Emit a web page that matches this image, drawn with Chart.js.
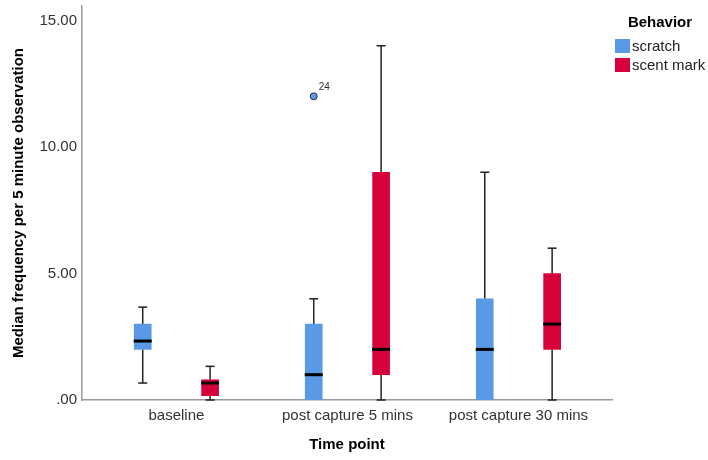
<!DOCTYPE html>
<html>
<head>
<meta charset="utf-8">
<script src="https://cdn.jsdelivr.net/npm/chart.js@4.4.1/dist/chart.umd.min.js"></script>
<style>
  body { margin: 0; background: #fff; }
  canvas { display: block; }
</style>
</head>
<body>
<canvas id="boxChart" width="708" height="460"></canvas>
<script>
const timePoints = ['baseline', 'post capture 5 mins', 'post capture 30 mins'];

// scratch
const scratchMin = [0.67, 0, 0];
const scratchQ1 = [2, 0, 0];
const scratchMedian = [2.33, 1, 2];
const scratchQ3 = [3, 3, 4];
const scratchMax = [3.67, 4, 9];

// scent mark
const scentMin = [0, 0, 0];
const scentQ1 = [0.17, 1, 2];
const scentMedian = [0.67, 2, 3];
const scentQ3 = [0.8, 9, 5];
const scentMax = [1.33, 14, 6];

// outliers (scratch)
const outlierTime = [1];
const outlierValue = [12];
const outlierCase = ['24'];

const yTicks = [0, 5, 10, 15];
const yTickLabels = ['.00', '5.00', '10.00', '15.00'];

const BLUE = '#5a99e5';
const RED = '#d6003a';
const FONT = "'Liberation Sans', Arial, sans-serif";
const groupOffset = 0.197; // half distance between the two boxes, in category units

function boxData(q1, q3, shift) {
  return timePoints.map((t, i) => ({ x: i + shift, y: [q1[i], q3[i]] }));
}

const series = [
  { label: 'scratch', color: BLUE, shift: -groupOffset, min: scratchMin, q1: scratchQ1, med: scratchMedian, q3: scratchQ3, max: scratchMax },
  { label: 'scent mark', color: RED, shift: groupOffset, min: scentMin, q1: scentQ1, med: scentMedian, q3: scentQ3, max: scentMax }
];

const boxPlugin = {
  id: 'boxParts',
  beforeDatasetsDraw(chart) {
    const { ctx, scales: { x, y } } = chart;
    ctx.save();
    ctx.strokeStyle = '#222';
    ctx.lineWidth = 1.5;
    series.forEach(s => {
      timePoints.forEach((t, i) => {
        const px = x.getPixelForValue(i + s.shift);
        const cap = 4.5;
        const parts = [[s.q3[i], s.max[i]], [s.min[i], s.q1[i]]];
        parts.forEach(([a, b]) => {
          if (b <= a) return;
          ctx.beginPath();
          ctx.moveTo(px, y.getPixelForValue(a));
          ctx.lineTo(px, y.getPixelForValue(b));
          ctx.stroke();
        });
        if (s.max[i] > s.q3[i]) {
          const py = y.getPixelForValue(s.max[i]);
          ctx.beginPath(); ctx.moveTo(px - cap, py); ctx.lineTo(px + cap, py); ctx.stroke();
        }
        if (s.min[i] < s.q1[i]) {
          const py = y.getPixelForValue(s.min[i]);
          ctx.beginPath(); ctx.moveTo(px - cap, py); ctx.lineTo(px + cap, py); ctx.stroke();
        }
      });
    });
    ctx.restore();
  },
  afterDatasetsDraw(chart) {
    const { ctx, scales: { x, y } } = chart;
    ctx.save();
    // medians
    ctx.strokeStyle = '#000';
    ctx.lineWidth = 3;
    series.forEach(s => {
      timePoints.forEach((t, i) => {
        const px = x.getPixelForValue(i + s.shift);
        const py = y.getPixelForValue(s.med[i]);
        ctx.beginPath(); ctx.moveTo(px - 9, py); ctx.lineTo(px + 9, py); ctx.stroke();
      });
    });
    // outlier case labels
    ctx.fillStyle = '#333';
    ctx.font = '10px ' + FONT;
    ctx.textBaseline = 'middle';
    outlierTime.forEach((t, k) => {
      const px = x.getPixelForValue(t - groupOffset);
      const py = y.getPixelForValue(outlierValue[k]);
      ctx.fillText(outlierCase[k], px + 5, py - 9);
    });
    // legend
    ctx.fillStyle = '#000';
    ctx.font = 'bold 15px ' + FONT;
    ctx.textAlign = 'center';
    ctx.fillText('Behavior', 660, 23);
    ctx.textAlign = 'left';
    ctx.font = '15px ' + FONT;
    series.forEach((s, k) => {
      const top = 39 + k * 19;
      ctx.fillStyle = s.color;
      ctx.fillRect(615, top, 15, 14);
      ctx.fillStyle = '#222';
      ctx.fillText(s.label, 632, top + 7.5);
    });
    ctx.restore();
  }
};

new Chart(document.getElementById('boxChart'), {
  type: 'bar',
  data: {
    datasets: [
      ...series.map(s => ({
        label: s.label,
        data: boxData(s.q1, s.q3, s.shift),
        backgroundColor: s.color,
        borderWidth: 0,
        barThickness: 17,
        grouped: false
      })),
      {
        type: 'scatter',
        label: 'outliers',
        data: outlierTime.map((t, k) => ({ x: t - groupOffset, y: outlierValue[k] })),
        backgroundColor: BLUE,
        borderColor: '#333',
        borderWidth: 1,
        pointRadius: 3.5
      }
    ]
  },
  options: {
    responsive: false,
    animation: false,
    layout: { padding: { left: 0, right: 96, top: 6, bottom: 0 } },
    plugins: { legend: { display: false }, tooltip: { enabled: false } },
    scales: {
      x: {
        type: 'linear',
        offset: false,
        min: -0.552,
        max: 2.547,
        grid: { display: false, drawTicks: false },
        border: { display: true, color: '#999', width: 1.5 },
        afterBuildTicks: scale => { scale.ticks = timePoints.map((t, i) => ({ value: i })); },
        afterFit: scale => { scale.height = 60; scale.paddingLeft = 0; scale.paddingRight = 0; },
        ticks: {
          padding: 7,
          color: '#333',
          font: { family: FONT, size: 15 },
          callback: v => timePoints[v]
        },
        title: {
          display: true,
          text: 'Time point',
          color: '#000',
          font: { family: FONT, size: 15, weight: 'bold' },
          padding: { top: 0, bottom: 6 }
        }
      },
      y: {
        min: 0,
        max: 15.57,
        grid: { display: false, drawTicks: false },
        border: { display: true, color: '#999', width: 1.5 },
        afterBuildTicks: scale => { scale.ticks = yTicks.map(v => ({ value: v })); },
        afterFit: scale => { scale.width = 82; scale.paddingTop = 0; scale.paddingBottom = 0; },
        ticks: {
          padding: 5,
          color: '#333',
          font: { family: FONT, size: 15 },
          callback: v => yTickLabels[yTicks.indexOf(v)]
        },
        title: {
          display: true,
          text: 'Median frequency per 5 minute observation',
          color: '#000',
          font: { family: FONT, size: 15, weight: 'bold' },
          padding: { top: 9.5, bottom: 0 }
        }
      }
    }
  },
  plugins: [boxPlugin]
});
</script>
</body>
</html>
